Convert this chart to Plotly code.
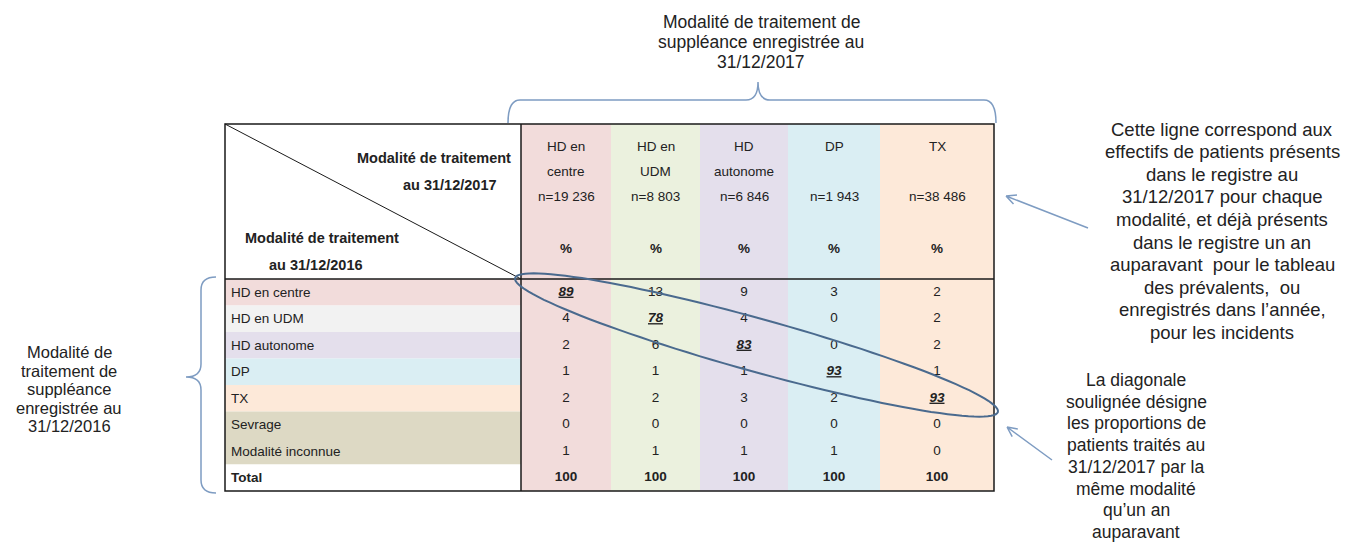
import numpy as np
import plotly.graph_objects as go

# ---------------- data ----------------
col_line1 = ["HD en", "HD en", "HD", "DP", "TX"]
col_line2 = ["centre", "UDM", "autonome", "", ""]
col_n = ["n=19 236", "n=8 803", "n=6 846", "n=1 943", "n=38 486"]
row_labels = ["HD en centre", "HD en UDM", "HD autonome", "DP", "TX",
              "Sevrage", "Modalité inconnue", "Total"]
hd_centre = [89, 4, 2, 1, 2, 0, 1, 100]
hd_udm = [13, 78, 6, 1, 2, 0, 1, 100]
hd_autonome = [9, 4, 83, 1, 3, 0, 1, 100]
dp = [3, 0, 0, 93, 2, 0, 1, 100]
tx = [2, 2, 2, 1, 93, 0, 0, 100]
columns = [hd_centre, hd_udm, hd_autonome, dp, tx]

title_top = ["Modalité de traitement de", "suppléance enregistrée au", "31/12/2017"]
title_left = ["Modalité de", "traitement de", "suppléance", "enregistrée au", "31/12/2016"]
note_right = ["Cette ligne correspond aux", "effectifs de patients présents",
              "dans le registre au", "31/12/2017 pour chaque",
              "modalité, et déjà présents", "dans le registre un an",
              "auparavant  pour le tableau", "des prévalents,  ou",
              "enregistrés dans l’année,", "pour les incidents"]
note_diag = ["La diagonale", "soulignée désigne", "les proportions de",
             "patients traités au", "31/12/2017 par la", "même modalité",
             "qu’un an", "auparavant"]

# ---------------- layout constants ----------------
W, H = 1365, 555
PAGE_MARGIN = 8  # default body margin of the html page
FONT = "Liberation Sans, Arial, sans-serif"
TXT = "#222222"
T_LEFT, T_RIGHT, T_TOP, T_BOTTOM = 225, 994, 124, 491
LBL_RIGHT = 521
COL_EDGES = [521, 611, 700, 788, 880, 994]
HEAD_BOTTOM = 279
ROW_H = (T_BOTTOM - HEAD_BOTTOM) / len(row_labels)
COL_FILL = ["#F2DCDB", "#EBF1DE", "#E4DFEC", "#DAEEF3", "#FDE9D9"]
ROW_FILL = ["#F2DCDB", "#F2F2F2", "#E4DFEC", "#DAEEF3", "#FDE9D9",
            "#DDD9C4", "#DDD9C4", "#FFFFFF"]
BLUE = "#7E9CC2"
DARKBLUE = "#4A6A8E"
TS = 13.5   # table font size

fig = go.Figure()
shapes = []
ann = []

def row_top(i):
    return HEAD_BOTTOM + i * ROW_H

def col_center(j):
    return (COL_EDGES[j] + COL_EDGES[j + 1]) / 2

# column backgrounds
for j in range(len(columns)):
    shapes.append(dict(type="rect", x0=COL_EDGES[j], x1=COL_EDGES[j + 1],
                       y0=T_TOP, y1=T_BOTTOM, fillcolor=COL_FILL[j],
                       line=dict(width=0), layer="below"))
# row label backgrounds
for i in range(len(row_labels)):
    shapes.append(dict(type="rect", x0=T_LEFT, x1=LBL_RIGHT,
                       y0=row_top(i), y1=row_top(i + 1), fillcolor=ROW_FILL[i],
                       line=dict(width=0), layer="below"))

# borders
bl = dict(color="#1a1a1a", width=1.5)
shapes.append(dict(type="rect", x0=T_LEFT, x1=T_RIGHT, y0=T_TOP, y1=T_BOTTOM, line=bl))
shapes.append(dict(type="line", x0=LBL_RIGHT, x1=LBL_RIGHT, y0=T_TOP, y1=T_BOTTOM, line=bl))
shapes.append(dict(type="line", x0=T_LEFT, x1=T_RIGHT, y0=HEAD_BOTTOM, y1=HEAD_BOTTOM, line=bl))
shapes.append(dict(type="line", x0=T_LEFT, x1=LBL_RIGHT, y0=T_TOP, y1=HEAD_BOTTOM,
                   line=dict(color="#1a1a1a", width=1)))

# header texts (corner)
hf = dict(family=FONT, size=14.5, color=TXT)
ann.append(dict(x=513, y=158, text="<b>Modalité de traitement</b>", xanchor="right", font=hf))
ann.append(dict(x=499, y=185, text="<b>au 31/12/2017</b>", xanchor="right", font=hf))
ann.append(dict(x=243, y=238, text="<b>Modalité de traitement</b>", xanchor="left", font=hf))
ann.append(dict(x=267, y=265, text="<b>au 31/12/2016</b>", xanchor="left", font=hf))

# column headers
cf = dict(family=FONT, size=TS, color=TXT)
for j in range(len(columns)):
    cx = col_center(j)
    ann.append(dict(x=cx, y=146, text=col_line1[j], font=cf))
    if col_line2[j]:
        ann.append(dict(x=cx, y=171, text=col_line2[j], font=cf))
    ann.append(dict(x=cx, y=196, text=col_n[j], font=cf))
    ann.append(dict(x=cx, y=248, text="<b>%</b>", font=cf))

# row labels
for i, lab in enumerate(row_labels):
    t = "<b>" + lab + "</b>" if lab == "Total" else lab
    ann.append(dict(x=229, y=row_top(i) + ROW_H / 2, text=t, xanchor="left",
                    font=dict(family=FONT, size=TS, color=TXT)))

# cell values via scatter text traces
for j, vals in enumerate(columns):
    texts = []
    for i, v in enumerate(vals):
        if i == j:
            texts.append("<b><i><u>%d</u></i></b>" % v)
        elif row_labels[i] == "Total":
            texts.append("<b>%d</b>" % v)
        else:
            texts.append(str(v))
    fig.add_trace(go.Scatter(
        x=[col_center(j)] * len(vals),
        y=[row_top(i) + ROW_H / 2 for i in range(len(vals))],
        mode="text", text=texts, textposition="middle center",
        textfont=dict(family=FONT, size=TS, color=TXT),
        hoverinfo="skip", showlegend=False))

# ellipse around diagonal
ecx, ecy = 756.5, 345
ang = np.arctan2(412 - 278, 998 - 515)
a_ax, b_ax = 250.5, 26.5
tt = np.linspace(0, 2 * np.pi, 121)
ex = ecx + a_ax * np.cos(tt) * np.cos(ang) - b_ax * np.sin(tt) * np.sin(ang)
ey = ecy + a_ax * np.cos(tt) * np.sin(ang) + b_ax * np.sin(tt) * np.cos(ang)
path = "M " + " L ".join("%.1f,%.1f" % (px, py) for px, py in zip(ex, ey)) + " Z"
shapes.append(dict(type="path", path=path, line=dict(color=DARKBLUE, width=2)))

# braces
shapes.append(dict(type="path",
                   path="M 508,123 Q 508,100 520,100 L 746,100 Q 758,100 758,82 "
                        "Q 758,100 770,100 L 984,100 Q 996,100 996,123",
                   line=dict(color=BLUE, width=1.5)))
shapes.append(dict(type="path",
                   path="M 216,277 Q 201,277 201,290 L 201,364 Q 201,377 186,377 "
                        "Q 201,377 201,390 L 201,480 Q 201,493 216,493",
                   line=dict(color=BLUE, width=1.5)))

# arrows
def arrow(x0, y0, x1, y1, L=11, spread=0.45):
    th = np.arctan2(y0 - y1, x0 - x1)
    p = "M %.1f,%.1f L %.1f,%.1f" % (x0, y0, x1, y1)
    for s in (spread, -spread):
        p += " M %.1f,%.1f L %.1f,%.1f" % (x1 + L * np.cos(th + s), y1 + L * np.sin(th + s), x1, y1)
    shapes.append(dict(type="path", path=p, line=dict(color=BLUE, width=1.5)))

arrow(1088, 228, 1006, 196)
arrow(1052, 460, 1007, 427)

# text blocks
def block(lines, x, y0, dy, size):
    for k, line in enumerate(lines):
        ann.append(dict(x=x, y=y0 + k * dy, text=line,
                        font=dict(family=FONT, size=size, color=TXT)))

block(title_top, 761, 22, 20, 17.5)
block(title_left, 69, 352, 18.5, 16.5)
block(note_right, 1222, 129, 22.6, 18.5)
block(note_diag, 1136, 380, 21.7, 17.5)

for a in ann:
    a.setdefault("xref", "x")
    a.setdefault("yref", "y")
    a.setdefault("showarrow", False)
    a.setdefault("yanchor", "middle")
    a.setdefault("xanchor", "center")

M = PAGE_MARGIN
fig.update_layout(
    width=W - 2 * M, height=H - 2 * M, margin=dict(l=0, r=0, t=0, b=0),
    paper_bgcolor="white", plot_bgcolor="white",
    xaxis=dict(range=[M, W - M], visible=False, fixedrange=True),
    yaxis=dict(range=[H - M, M], visible=False, fixedrange=True),
    shapes=shapes, annotations=ann, showlegend=False,
)
fig.write_html("out.html")
